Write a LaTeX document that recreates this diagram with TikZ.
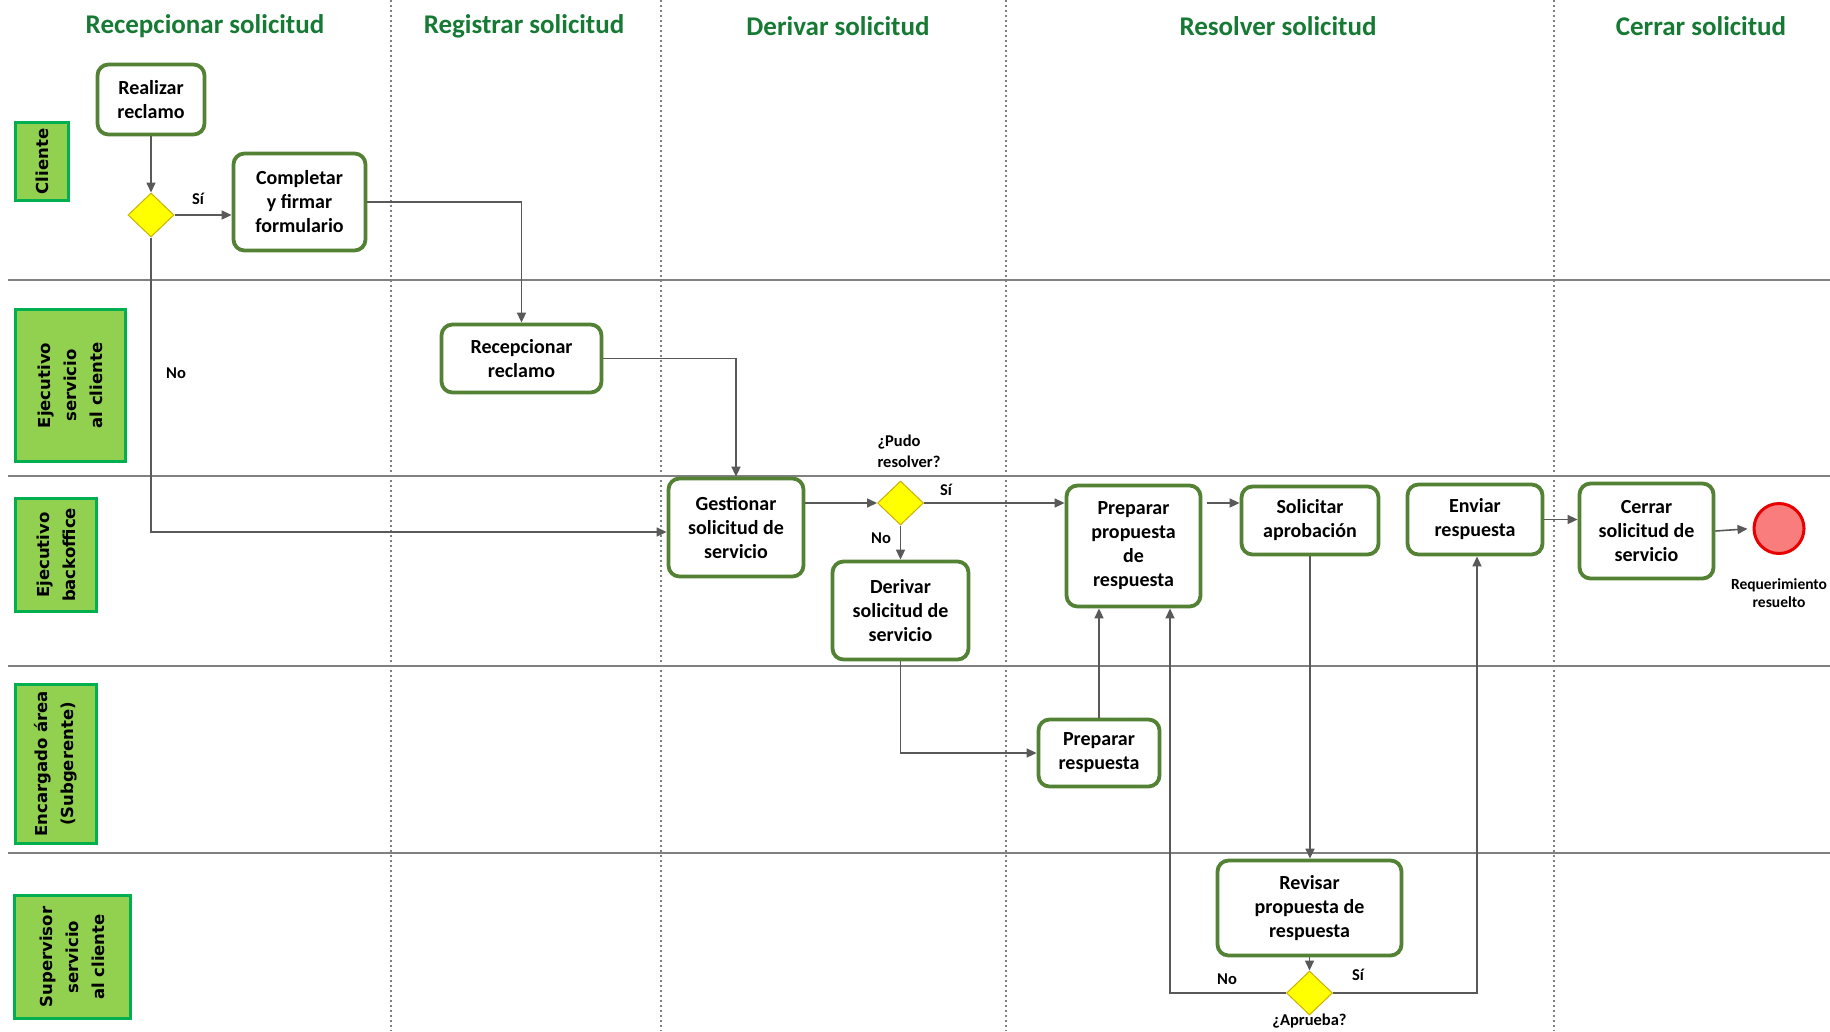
\documentclass[tikz,border=0pt]{standalone}
\usepackage{fontspec}
\setmainfont{Carlito}
\newfontfamily\lanefont{DejaVu Sans}
\usetikzlibrary{arrows.meta,shapes.geometric}
\definecolor{boxgreen}{RGB}{84,130,53}
\definecolor{lanefill}{RGB}{146,208,80}
\definecolor{laneborder}{RGB}{0,176,80}
\definecolor{headgreen}{RGB}{22,122,52}
\definecolor{arrgray}{RGB}{89,89,89}
\definecolor{linegray}{RGB}{128,128,128}
\definecolor{dyellow}{RGB}{255,255,0}
\definecolor{dborder}{RGB}{205,175,0}
\definecolor{endfill}{RGB}{250,125,125}
\definecolor{endborder}{RGB}{230,0,0}
\begin{document}
\begin{tikzpicture}[x=1pt,y=-1pt,
 task/.style={draw=boxgreen, line width=3.8pt, rounded corners=11pt, fill=white, align=center, inner sep=0pt, font=\bfseries\fontsize{20}{24}\selectfont},
 lane/.style={draw=laneborder, line width=3pt, fill=lanefill, rotate=90, align=center, inner sep=0pt, font=\lanefont\bfseries\fontsize{16.5}{26}\selectfont},
 head/.style={text=headgreen, font=\bfseries\fontsize{27}{30}\selectfont},
 gate/.style={diamond, aspect=1, draw=dborder, line width=1pt, fill=dyellow, inner sep=0pt, minimum width=46pt, minimum height=44pt},
 lbl/.style={font=\bfseries\fontsize{16.5}{21}\selectfont},
 arr/.style={draw=arrgray, line width=1.6pt, -{Triangle[length=10pt,width=9pt]}},
 swim/.style={draw=linegray, line width=2pt},
 sep/.style={draw=linegray, line width=2pt, dash pattern=on 2pt off 3pt}
]
\fill[white] (0,0) rectangle (1830,1031);
\useasboundingbox (0,0) rectangle (1830,1031);

% swimlane lines
\foreach \yy in {280,476,666,853} \draw[swim] (8,\yy) -- (1830,\yy);
\foreach \xx in {391,661,1006,1554} \draw[sep] (\xx,0) -- (\xx,1031);

% headers
\node[head] (h1) at (205,26) {Recepcionar solicitud};
\node[head] (h2) at (524,26) {Registrar solicitud};
\node[head] (h3) at (838,26) {Derivar solicitud};
\node[head] (h4) at (1278,26) {Resolver solicitud};
\node[head] (h5) at (1701,26) {Cerrar solicitud};

% lane labels
\node[lane, minimum width=78, minimum height=53] (lcli) at (42,161.5) {Cliente};
\node[lane, minimum width=152, minimum height=110] (lesc) at (70.5,385.5) {Ejecutivo\\servicio\\al cliente};
\node[lane, minimum width=113, minimum height=81] (lebo) at (56,555) {Ejecutivo\\backoffice};
\node[lane, minimum width=159, minimum height=81] (lenc) at (56,764) {Encargado área\\(Subgerente)};
\node[lane, minimum width=123, minimum height=116] (lsup) at (72.5,957) {Supervisor\\servicio\\al cliente};

% tasks
\node[task, minimum width=107, minimum height=70] (real) at (151,99.5) {Realizar\\reclamo};
\node[task, minimum width=132, minimum height=97] (comp) at (299.5,202) {Completar\\y firmar\\formulario};
\node[task, minimum width=160, minimum height=68] (recl) at (521.5,358.5) {Recepcionar\\reclamo};
\node[task, minimum width=135, minimum height=98] (gest) at (736,527.5) {Gestionar\\solicitud de\\servicio};
\node[task, minimum width=136, minimum height=98] (deriv) at (900.5,610.5) {Derivar\\solicitud de\\servicio};
\node[task, minimum width=134, minimum height=121] (ppr) at (1133.5,546) {Preparar\\propuesta\\de\\respuesta};
\node[task, minimum width=121, minimum height=67] (presp) at (1099,753) {Preparar\\respuesta};
\node[task, minimum width=137, minimum height=68] (solap) at (1310,520.5) {Solicitar\\aprobación};
\node[task, minimum width=135, minimum height=70] (env) at (1475,519.5) {Enviar\\respuesta};
\node[task, minimum width=134, minimum height=95] (cerr) at (1646.5,531) {Cerrar\\solicitud de\\servicio};
\node[task, minimum width=184, minimum height=95] (rev) at (1309.5,908) {Revisar\\propuesta de\\respuesta};

% gateways
\node[gate] (d1) at (151,215) {};
\node[gate] (d2) at (900.5,503) {};
\node[gate] (d3) at (1309.5,993) {};

% end event
\node[circle, draw=endborder, line width=3pt, fill=endfill, minimum size=50pt, inner sep=0pt] (endc) at (1779,528.5) {};
\node[align=center, font=\bfseries\fontsize{15.5}{18}\selectfont] (endlbl) at (1779,593) {Requerimiento\\resuelto};

% labels
\node[lbl] (l1) at (198,199) {Sí};
\node[lbl] (l2) at (176,373) {No};
\node[lbl, align=left, anchor=west] (l3) at (874,451) {¿Pudo\\resolver?};
\node[lbl] (l4) at (946,490) {Sí};
\node[lbl] (l5) at (881,538) {No};
\node[lbl] (l6) at (1227,979) {No};
\node[lbl] (l7) at (1358,975) {Sí};
\node[lbl] (l8) at (1309.5,1021) {¿Aprueba?};

% helper coordinates
\coordinate (ny) at (0,532);
\coordinate (ya) at (0,503);
\coordinate (nox) at (1170,0);
\coordinate (six) at (1477,0);

% connectors
\draw[arr] (real.south) -- (d1.north);
\draw[arr] (d1.east) -- (d1.east -| comp.west);
\draw[arr] (d1.south) |- (gest.west |- ny);
\draw[arr] (comp.east) -| (recl.north);
\draw[arr] (recl.east) -| (gest.north);
\draw[arr] (gest.east |- d2) -- (d2.west);
\draw[arr] (d2.east) -- (d2.east -| ppr.west);
\draw[arr] (d2.south) -- (deriv.north);
\draw[arr] (deriv.south) |- (presp.west);
\draw[arr] (presp.north) -- (presp.north |- ppr.south);
\draw[arr] (d3.west) -| (nox |- ppr.south);
\draw[arr, shorten <=5pt] (ppr.east |- ya) -- (solap.west |- ya);
\draw[arr] (solap.south) -- (solap.south |- rev.north);
\draw[arr] (rev.south) -- (d3.north);
\draw[arr] (d3.east) -| (six |- env.south);
\draw[arr] (env.east) -- (env.east -| cerr.west);
\draw[arr, shorten >=5pt] (cerr.east) -- (endc.west);
\end{tikzpicture}
\end{document}
